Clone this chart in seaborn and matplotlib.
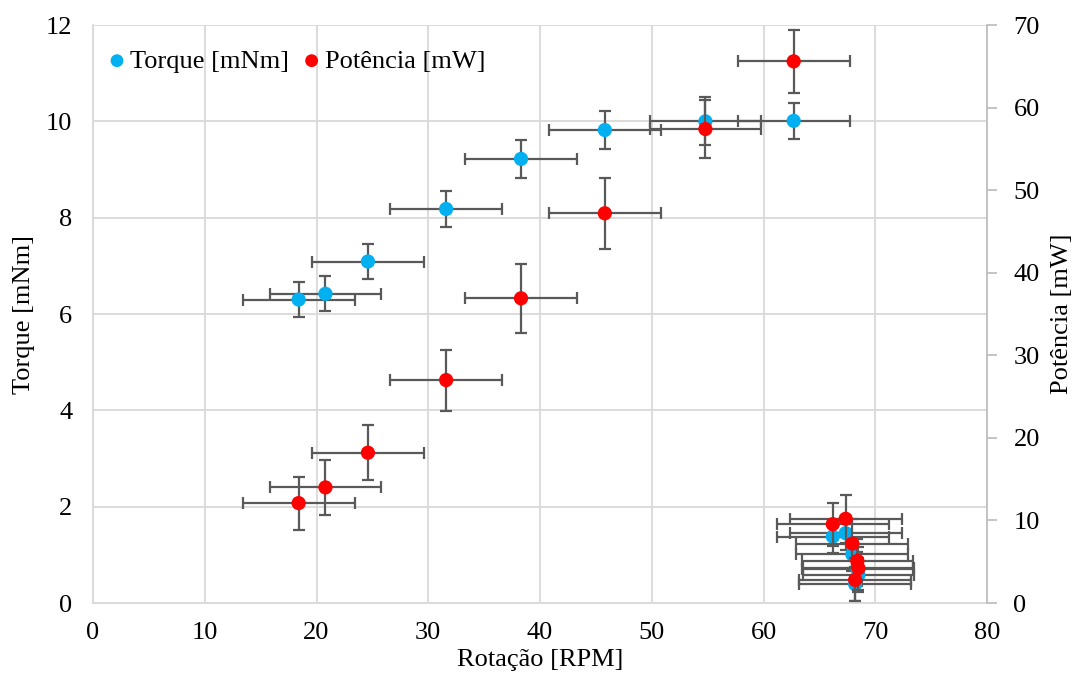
import matplotlib
matplotlib.use("Agg")
import matplotlib.pyplot as plt
import numpy as np
import pandas as pd
import seaborn as sns

# dados
rotacao = [18.4, 20.8, 24.6, 31.6, 38.3, 45.8, 54.8, 62.7, 66.2, 67.35, 67.95, 68.4, 68.5, 68.2]
rotacao_err = [5, 5, 5, 5, 5, 5, 5, 5, 5, 5, 5, 5, 5, 5]
torque = [6.30, 6.42, 7.09, 8.18, 9.22, 9.82, 10.0, 10.01, 1.38, 1.45, 1.01, 0.71, 0.585, 0.39]
torque_err = [0.36, 0.36, 0.37, 0.38, 0.39, 0.40, 0.50, 0.38, 0.34, 0.35, 0.35, 0.35, 0.35, 0.35]
potencia = [12.1, 14.0, 18.2, 27.0, 36.9, 47.2, 57.4, 65.6, 9.55, 10.2, 7.2, 5.1, 4.2, 2.8]
potencia_err = [3.2, 3.3, 3.3, 3.7, 4.2, 4.3, 3.5, 3.8, 2.6, 2.9, 3.0, 2.6, 2.6, 2.6]

df = pd.DataFrame({'rot': rotacao, 'rot_err': rotacao_err,
                   'T': torque, 'T_err': torque_err,
                   'P': potencia, 'P_err': potencia_err})

sns.set_theme(style="white")
plt.rcParams['font.family'] = ['Liberation Serif', 'DejaVu Serif']
fs = 19
plt.rcParams['font.size'] = fs
plt.rcParams['text.color'] = '#000000'
plt.rcParams['axes.labelcolor'] = '#000000'

azul = '#00B0F0'
vermelho = '#FF0000'
cinza_barra = '#595959'
cinza_grade = '#D9D9D9'

fig = plt.figure(figsize=(10.74, 6.78), dpi=100)
ax1 = fig.add_axes([0.0866, 0.1106, 0.8324, 0.8525])
ax2 = ax1.twinx()

eb = dict(fmt='none', ecolor=cinza_barra, elinewidth=1.6, capsize=4.5, capthick=1.6)

ax1.errorbar(df['rot'], df['T'], xerr=df['rot_err'], yerr=df['T_err'], zorder=2, **eb)
sns.scatterplot(data=df, x='rot', y='T', ax=ax1, color=azul, s=105,
                edgecolor='none', zorder=3, label='Torque [mNm]', legend=False)

ax2.errorbar(df['rot'], df['P'], xerr=df['rot_err'], yerr=df['P_err'], zorder=2, **eb)
sns.scatterplot(data=df, x='rot', y='P', ax=ax2, color=vermelho, s=105,
                edgecolor='none', zorder=3, label='Potência [mW]', legend=False)

ax1.set_xlim(0, 80)
ax1.set_ylim(0, 12)
ax2.set_ylim(0, 70)
ax1.set_xticks(np.arange(0, 81, 10))
ax1.set_yticks(np.arange(0, 13, 2))
ax2.set_yticks(np.arange(0, 71, 10))

ax1.grid(True, color=cinza_grade, linewidth=1.3)
ax1.set_axisbelow(True)
ax2.grid(False)

for s in ['left', 'bottom']:
    ax1.spines[s].set_color(cinza_grade)
    ax1.spines[s].set_linewidth(1.3)
ax1.spines['top'].set_visible(False)
ax1.spines['right'].set_visible(False)
for s in ['left', 'top', 'bottom']:
    ax2.spines[s].set_visible(False)
ax2.spines['right'].set_color('#BFBFBF')
ax2.spines['right'].set_linewidth(1.3)

ax1.tick_params(axis='both', length=0, labelsize=fs, labelcolor='#000000')
ax1.tick_params(axis='y', pad=15)
ax1.tick_params(axis='x', pad=14)
ax2.tick_params(axis='y', length=7, width=1.3, color='#BFBFBF', labelsize=fs,
                labelcolor='#000000', pad=12)

ax1.set_xlabel('Rotação [RPM]', fontsize=fs, labelpad=3, color='#000000')
ax1.set_ylabel('Torque [mNm]', fontsize=fs, labelpad=8, color='#000000')
ax2.set_ylabel('Potência [mW]', fontsize=fs, labelpad=8, color='#000000')

h1, l1 = ax1.get_legend_handles_labels()
h2, l2 = ax2.get_legend_handles_labels()
leg = ax2.legend(h1 + h2, l1 + l2, loc='center left', bbox_to_anchor=(0.018, 0.938),
                 ncol=2, frameon=False, fontsize=fs, handlelength=0.6, handletextpad=0.2,
                 columnspacing=0.55, borderaxespad=0.0, borderpad=0.0, markerscale=0.9)
for t in leg.get_texts():
    t.set_color('#000000')

fig.savefig('out.png', dpi=100)
